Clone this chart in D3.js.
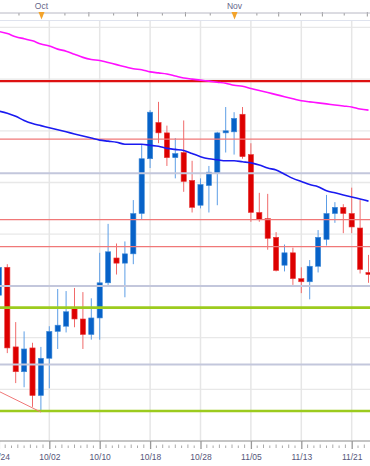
<!DOCTYPE html>
<html><head><meta charset="utf-8">
<script src="https://cdn.jsdelivr.net/npm/d3@7/dist/d3.min.js"></script>
<style>html,body{margin:0;padding:0;background:#fff;overflow:hidden}svg{display:block}</style>
</head><body><svg id="c" width="370" height="466"></svg>
<script>
// ---- data (daily candles, index 0 = 09/24 bar) ----
const opens  = [1.1441,1.1468,1.1391,1.1367,1.1390,1.1344,1.1380,1.1406,1.1411,1.1429,1.1418,1.1403,1.1419,1.1453,1.1477,1.1472,1.1481,1.1520,1.1573,1.1608,1.1598,1.1574,1.1579,1.1552,1.1528,1.1547,1.1559,1.1598,1.1599,1.1616,1.1577,1.1521,1.1515,1.1497,1.1470,1.1482,1.1457,1.1454,1.1469,1.1495,1.1520,1.1526,1.1520,1.1506,1.1463];
const highs  = [1.1473,1.1471,1.1415,1.1406,1.1395,1.1391,1.1411,1.1447,1.1445,1.1448,1.1444,1.1438,1.1482,1.1510,1.1491,1.1493,1.1533,1.1587,1.1620,1.1628,1.1605,1.1593,1.1610,1.1571,1.1554,1.1566,1.1599,1.1623,1.1618,1.1623,1.1588,1.1540,1.1539,1.1502,1.1490,1.1487,1.1468,1.1475,1.1504,1.1538,1.1531,1.1529,1.1545,1.1533,1.1480];
const lows   = [1.1437,1.1385,1.1356,1.1352,1.1333,1.1328,1.1351,1.1389,1.1405,1.1410,1.1389,1.1398,1.1398,1.1450,1.1461,1.1439,1.1471,1.1514,1.1564,1.1588,1.1566,1.1554,1.1541,1.1521,1.1525,1.1521,1.1528,1.1579,1.1577,1.1573,1.1512,1.1512,1.1485,1.1464,1.1464,1.1451,1.1443,1.1437,1.1463,1.1489,1.1511,1.1501,1.1501,1.1462,1.1453];
const closes = [1.1468,1.1390,1.1367,1.1389,1.1344,1.1380,1.1406,1.1412,1.1425,1.1418,1.1403,1.1419,1.1453,1.1483,1.1472,1.1481,1.1520,1.1573,1.1618,1.1598,1.1574,1.1578,1.1551,1.1526,1.1548,1.1560,1.1598,1.1600,1.1612,1.1575,1.1521,1.1514,1.1496,1.1465,1.1482,1.1457,1.1454,1.1469,1.1497,1.1520,1.1526,1.1520,1.1507,1.1466,1.1461];
const maBlue = [1.1619,1.1617,1.1614,1.1610,1.1607,1.1605,1.1603,1.1601,1.1599,1.1597,1.1595,1.1593,1.1591,1.1590,1.1589,1.1587,1.1587,1.1587,1.1586,1.1585,1.1583,1.1582,1.1581,1.1578,1.1575,1.1573,1.1572,1.1571,1.1571,1.1570,1.1569,1.1567,1.1564,1.1562,1.1558,1.1554,1.1551,1.1548,1.1546,1.1542,1.1540,1.1538,1.1536,1.1534,1.1532];
const maPink = [1.1696,1.1694,1.1691,1.1689,1.1687,1.1684,1.1682,1.1679,1.1677,1.1674,1.1671,1.1669,1.1668,1.1666,1.1664,1.1662,1.1660,1.1659,1.1657,1.1656,1.1655,1.1653,1.1651,1.1650,1.1649,1.1648,1.1647,1.1646,1.1644,1.1643,1.1641,1.1639,1.1637,1.1635,1.1633,1.1631,1.1629,1.1628,1.1627,1.1626,1.1625,1.1624,1.1623,1.1621,1.1620];
const dateLabels = ["09/24","10/02","10/10","10/18","10/28","11/05","11/13","11/21"];
const dateLabelIdx = [0,6,12,18,24,30,36,42];
const monthLabels = ["Oct","Nov"];
const monthIdx = [5.07,28.05];
const topTickIdx = [2.33,5.07,7.8,10.65,13.6,16.45,19.4,22.15,25.1,28.05,30.65,33.25,35.85,38.45,41.05,43.8];
const priceTicks = [1.130,1.135,1.140,1.145,1.150,1.155,1.160,1.165,1.170];
const levelThickRed = [1.1648];
const levelRed = [1.1592,1.1514,1.1488];
const levelGray = [1.1559,1.1450,1.1374];
const levelGreen = [1.1429,1.1329];
const trendIdx = [0,5];
const trendVals = [1.1348,1.1328];

// ---- layout ----
const W = 370, H = 466, plotTop = 21, plotBottom = 441;
const svg = d3.select("#c");
const x = d3.scaleLinear().domain([0,44]).range([-1.1, -1.1 + 8.4*44]);
const y = d3.scaleLinear().domain([1.130,1.170]).range([plotBottom, plotBottom - 8*51.7]);
const n = opens.length;
const bars = d3.range(n).map(i => ({i, o:opens[i], h:highs[i], l:lows[i], c:closes[i]}));

svg.append("defs").append("clipPath").attr("id","pc")
  .append("rect").attr("x",0).attr("y",plotTop).attr("width",W).attr("height",plotBottom-plotTop);
const plot = svg.append("g").attr("clip-path","url(#pc)");

// gridlines
plot.append("g").selectAll("line").data(priceTicks).join("line")
  .attr("x1",0).attr("x2",W).attr("y1",d=>y(d)).attr("y2",d=>y(d))
  .attr("stroke","#e8e8e8").attr("stroke-width",1.3);
plot.append("g").selectAll("line").data(dateLabelIdx).join("line")
  .attr("x1",d=>x(d)).attr("x2",d=>x(d)).attr("y1",plotTop).attr("y2",plotBottom)
  .attr("stroke","#e6e6e6").attr("stroke-width",1.5);

// candles
const cg = plot.append("g");
cg.append("g").selectAll("line").data(bars).join("line")
  .attr("x1",d=>x(d.i)).attr("x2",d=>x(d.i))
  .attr("y1",d=>y(d.h)).attr("y2",d=>y(d.l))
  .attr("stroke",d=>d.c>=d.o?"#5d9ee6":"#f06a6a").attr("stroke-width",1);
cg.append("g").selectAll("rect").data(bars).join("rect")
  .attr("x",d=>x(d.i)-2.6).attr("width",5.2)
  .attr("y",d=>y(Math.max(d.o,d.c)))
  .attr("height",d=>Math.max(1.5, Math.abs(y(d.o)-y(d.c))))
  .attr("fill",d=>d.c>=d.o?"#0762c8":"#dd0000")
  .attr("stroke",d=>d.c>=d.o?"#3f8ad8":"#e83a3a").attr("stroke-width",0.6);

// level lines
function levels(arr, color, w){
  plot.append("g").selectAll("line").data(arr).join("line")
    .attr("x1",0).attr("x2",W).attr("y1",d=>y(d)).attr("y2",d=>y(d))
    .attr("stroke",color).attr("stroke-width",w);
}
levels(levelGray,"#c3c7dc",2);
levels(levelGreen,"#9ccb1e",2.6);
levels(levelRed,"#f07878",1.2);
levels(levelThickRed,"#dd1111",2.2);

// trendline
plot.append("line")
  .attr("x1",x(trendIdx[0])).attr("y1",y(trendVals[0]))
  .attr("x2",x(trendIdx[1])).attr("y2",y(trendVals[1]))
  .attr("stroke","#f07878").attr("stroke-width",1);

// moving averages
const lineGen = arr => d3.line().x((d,i)=>x(i)).y(d=>y(d)).curve(d3.curveMonotoneX)(arr);
plot.append("path").attr("d",lineGen(maPink)).attr("fill","none").attr("stroke","#ff10ff").attr("stroke-width",1.6);
plot.append("path").attr("d",lineGen(maBlue)).attr("fill","none").attr("stroke","#1a1af0").attr("stroke-width",1.6);

// ---- bottom axis ----
const fontFam = "'Liberation Sans', Arial, sans-serif";
svg.append("line").attr("x1",0).attr("x2",W).attr("y1",plotBottom).attr("y2",plotBottom)
  .attr("stroke","#c4c4c4").attr("stroke-width",2);
const minorIdx = d3.range(-6, 45.1, 0.75).filter(v => Math.abs(v/6 - Math.round(v/6)) > 1e-6);
svg.append("g").selectAll("line").data(minorIdx).join("line")
  .attr("x1",d=>x(d)).attr("x2",d=>x(d))
  .attr("y1",(d,i)=> plotBottom + (i%2 ? 3.5 : 4.5)).attr("y2",plotBottom+7)
  .attr("stroke","#aaa").attr("stroke-width",1);
const bAxis = d3.axisBottom(x).tickValues(dateLabelIdx)
  .tickFormat((d,i)=>dateLabels[i]).tickSize(8).tickPadding(5);
const bg = svg.append("g").attr("transform",`translate(0,${plotBottom})`).call(bAxis);
bg.select(".domain").remove();
bg.selectAll(".tick line").attr("stroke","#999").attr("stroke-width",1.3);
bg.selectAll(".tick text").attr("fill","#55557a").attr("font-size","8.5px").attr("font-family",fontFam);

// ---- top axis ----
const topAxisY = 13;
const tAxis = d3.axisBottom(x).tickValues(topTickIdx).tickFormat("").tickSize(3);
const tg = svg.append("g").attr("transform",`translate(0,${topAxisY})`).call(tAxis);
tg.select(".domain").remove();
tg.selectAll(".tick line").attr("stroke","#999")
  .attr("y1",(d,i)=> i%2 ? -1 : 0).attr("y2",(d,i)=> i%2 ? 3.5 : 2.5);
svg.append("line").attr("x1",0).attr("x2",W).attr("y1",topAxisY).attr("y2",topAxisY)
  .attr("stroke","#b8b8c4").attr("stroke-width",1);
svg.append("line").attr("x1",0).attr("x2",W).attr("y1",20.5).attr("y2",20.5)
  .attr("stroke","#dfe3ee").attr("stroke-width",1);
svg.append("g").selectAll("path").data(monthIdx).join("path")
  .attr("d",d=>`M${x(d)-3},${topAxisY-1} L${x(d)+3},${topAxisY-1} L${x(d)},${topAxisY+6.5} Z`)
  .attr("fill","#f3a32a");
svg.append("g").selectAll("text").data(monthIdx).join("text")
  .attr("x",d=>x(d)).attr("y",9).attr("text-anchor","middle")
  .attr("fill","#66668a").attr("font-size","8.5px").attr("font-family",fontFam)
  .text((d,i)=>monthLabels[i]);
</script></body></html>
